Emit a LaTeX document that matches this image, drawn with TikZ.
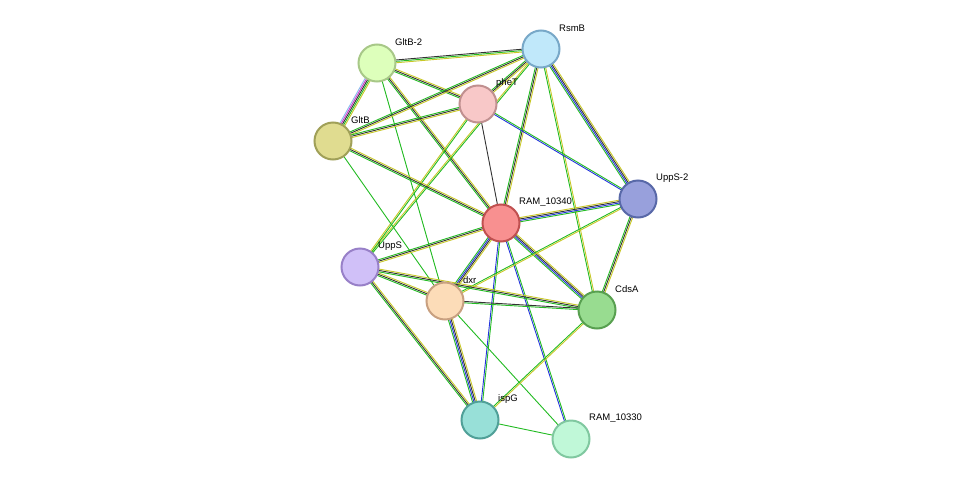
\documentclass[tikz,border=0pt]{standalone}
\usepackage{fontspec}
\setmainfont{Liberation Sans}
\usetikzlibrary{calc}
\definecolor{eY}{HTML}{C8C828}
\definecolor{eG}{HTML}{22BB22}
\definecolor{eB}{HTML}{2233DD}
\definecolor{eK}{HTML}{333333}
\definecolor{eM}{HTML}{CC33CC}
\definecolor{eL}{HTML}{88BBEE}
\newcommand{\ed}[4]{% from, to, count, colors
  \foreach \c [count=\i] in {#4}{
    \pgfmathsetmacro{\off}{(\i-(#3+1)/2)*1.4}
    \draw[draw=\c,line width=0.9pt] ($(#1)!\off pt!90:(#2)$) -- ($(#2)!\off pt!-90:(#1)$);
  }}
\tikzset{
  prot/.style={circle,minimum size=37pt,inner sep=0pt,line width=2pt},
  lab/.style={anchor=west,font=\fontsize{9.5}{11}\selectfont,inner sep=0pt}
}
\begin{document}
\begin{tikzpicture}[x=1pt,y=-1pt]
\useasboundingbox (0,0) rectangle (975,485);
\coordinate (GltB2) at (377,63);
\coordinate (RsmB) at (541,49);
\coordinate (pheT) at (478,104);
\coordinate (GltB) at (333,141);
\coordinate (UppS2) at (638,199);
\coordinate (R340) at (501,223);
\coordinate (UppS) at (360,267);
\coordinate (dxr) at (445,301);
\coordinate (CdsA) at (597,310);
\coordinate (ispG) at (480,420);
\coordinate (R330) at (571,439);
% edges
\ed{GltB2}{RsmB}{3}{eY,eG,eK}
\ed{GltB2}{pheT}{3}{eG,eK,eY}
\ed{GltB2}{GltB}{5}{eL,eM,eK,eG,eY}
\ed{GltB2}{R340}{3}{eG,eK,eY}
\ed{GltB2}{dxr}{1}{eG}
\ed{RsmB}{pheT}{3}{eG,eK,eY}
\ed{RsmB}{GltB}{3}{eG,eK,eY}
\ed{RsmB}{R340}{3}{eG,eK,eY}
\ed{RsmB}{UppS2}{4}{eG,eB,eK,eY}
\ed{RsmB}{CdsA}{2}{eG,eY}
\ed{RsmB}{UppS}{2}{eY,eG}
\ed{pheT}{GltB}{3}{eG,eK,eY}
\ed{pheT}{R340}{1}{eK}
\ed{pheT}{UppS2}{2}{eB,eG}
\ed{pheT}{UppS}{2}{eY,eG}
\ed{GltB}{R340}{3}{eG,eK,eY}
\ed{GltB}{dxr}{1}{eG}
\ed{R340}{UppS2}{4}{eG,eB,eK,eY}
\ed{R340}{UppS}{3}{eG,eK,eY}
\ed{R340}{dxr}{4}{eG,eB,eK,eY}
\ed{R340}{CdsA}{4}{eG,eB,eK,eY}
\ed{R340}{ispG}{2}{eB,eG}
\ed{R340}{R330}{2}{eB,eG}
\ed{UppS2}{CdsA}{3}{eG,eK,eY}
\ed{UppS2}{dxr}{2}{eG,eY}
\ed{UppS}{dxr}{3}{eG,eK,eY}
\ed{UppS}{CdsA}{3}{eG,eK,eY}
\ed{UppS}{ispG}{3}{eG,eK,eY}
\ed{dxr}{CdsA}{2}{eG,eK}
\ed{dxr}{ispG}{4}{eG,eB,eK,eY}
\ed{dxr}{R330}{1}{eG}
\ed{CdsA}{ispG}{2}{eG,eY}
\ed{ispG}{R330}{1}{eG}
% nodes
\node[prot,fill={rgb,255:red,221;green,255;blue,187},draw={rgb,255:red,168;green,200;blue,136}] (nGltB2) at (GltB2) {};
\node[prot,fill={rgb,255:red,192;green,232;blue,250},draw={rgb,255:red,120;green,168;blue,200}] (nRsmB) at (RsmB) {};
\node[prot,fill={rgb,255:red,248;green,200;blue,200},draw={rgb,255:red,192;green,144;blue,144}] (npheT) at (pheT) {};
\node[prot,fill={rgb,255:red,224;green,220;blue,144},draw={rgb,255:red,160;green,160;blue,88}] (nGltB) at (GltB) {};
\node[prot,fill={rgb,255:red,152;green,160;blue,220},draw={rgb,255:red,88;green,104;blue,168}] (nUppS2) at (UppS2) {};
\node[prot,fill={rgb,255:red,248;green,144;blue,144},draw={rgb,255:red,192;green,80;blue,80}] (nR340) at (R340) {};
\node[prot,fill={rgb,255:red,208;green,192;blue,248},draw={rgb,255:red,152;green,128;blue,200}] (nUppS) at (UppS) {};
\node[prot,fill={rgb,255:red,252;green,220;blue,184},draw={rgb,255:red,200;green,160;blue,128}] (ndxr) at (dxr) {};
\node[prot,fill={rgb,255:red,152;green,220;blue,144},draw={rgb,255:red,88;green,160;blue,80}] (nCdsA) at (CdsA) {};
\node[prot,fill={rgb,255:red,152;green,224;blue,216},draw={rgb,255:red,80;green,160;blue,152}] (nispG) at (ispG) {};
\node[prot,fill={rgb,255:red,192;green,248;blue,216},draw={rgb,255:red,128;green,200;blue,160}] (nR330) at (R330) {};
% labels
\node[lab] (lGltB2) at ($(GltB2)+(18,-21)$) {GltB-2};
\node[lab] (lRsmB) at ($(RsmB)+(18,-21)$) {RsmB};
\node[lab] (lpheT) at ($(pheT)+(18,-21)$) {pheT};
\node[lab] (lGltB) at ($(GltB)+(18,-21)$) {GltB};
\node[lab] (lUppS2) at ($(UppS2)+(18,-21)$) {UppS-2};
\node[lab] (lR340) at ($(R340)+(18,-21)$) {RAM\_10340};
\node[lab] (lUppS) at ($(UppS)+(18,-21)$) {UppS};
\node[lab] (ldxr) at ($(dxr)+(18,-21)$) {dxr};
\node[lab] (lCdsA) at ($(CdsA)+(18,-21)$) {CdsA};
\node[lab] (lispG) at ($(ispG)+(18,-21)$) {ispG};
\node[lab] (lR330) at ($(R330)+(18,-21)$) {RAM\_10330};
\end{tikzpicture}
\end{document}
